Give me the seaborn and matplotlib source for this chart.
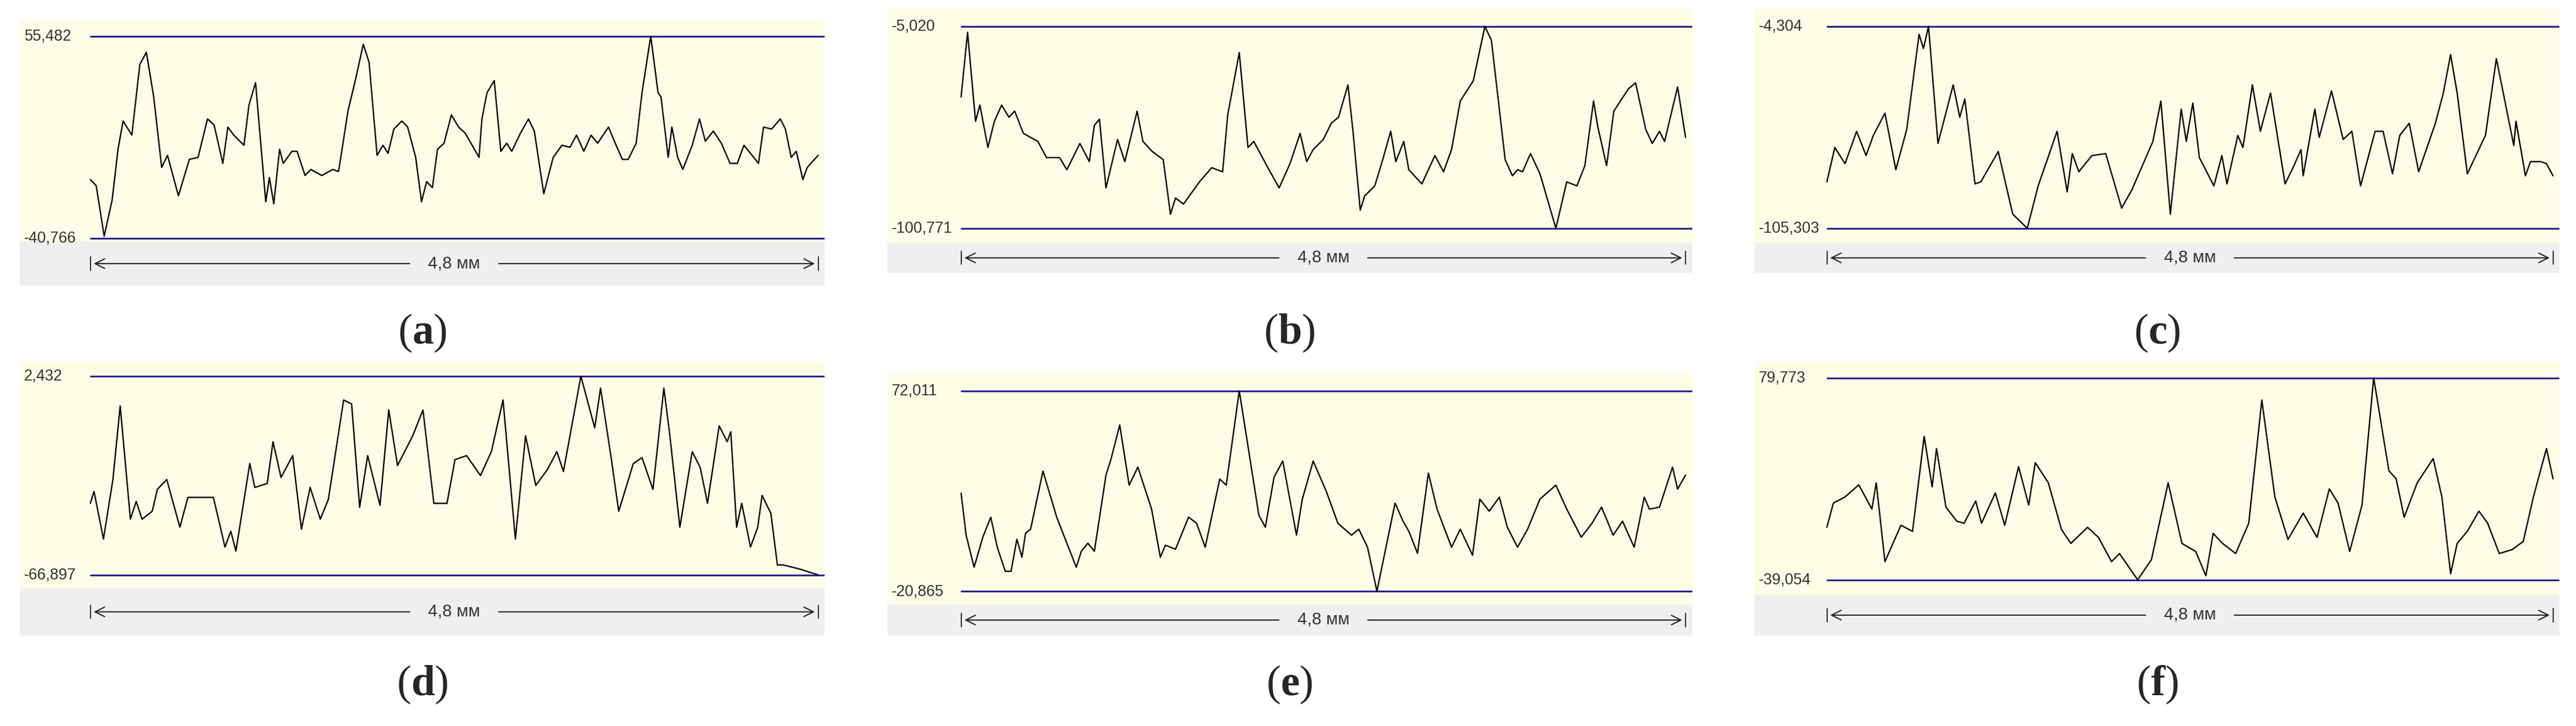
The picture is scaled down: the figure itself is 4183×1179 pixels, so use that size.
import numpy as np
import pandas as pd
import matplotlib
matplotlib.use("Agg")
import matplotlib.pyplot as plt
import seaborn as sns

# profile data: x in % of 4.8 mm trace, height in % between min and max lines
a_x = [0, 0.8, 1.9, 3.0, 3.8, 4.5, 5.7, 6.8, 7.7, 8.7, 9.8, 10.6, 12.1, 13.6, 14.8, 16.1, 17.0, 18.2, 18.9, 19.7,
       21.1, 21.8, 22.7, 24.1, 24.6, 25.2, 26.0, 26.5, 27.7, 28.4, 29.5, 30.3, 31.8, 33.3, 34.1, 34.5, 35.4, 36.4, 37.5, 38.3,
       39.4, 40.2, 40.9, 41.7, 42.8, 43.6, 44.7, 45.5, 46.2, 47.0, 47.7, 48.6, 49.6, 50.6, 51.5, 52.3, 53.4, 53.8, 54.5, 55.5,
       56.4, 57.2, 57.9, 59.1, 60.2, 61.0, 62.3, 63.6, 64.8, 65.9, 66.8, 67.8, 68.8, 69.7, 71.2, 72.0, 73.1, 73.9, 75.0, 75.8,
       77.0, 78.0, 78.4, 79.4, 79.9, 80.7, 81.4, 82.7, 83.7, 84.5, 85.6, 86.7, 87.9, 88.9, 89.8, 90.7, 91.8, 92.5, 93.6, 94.8,
       95.5, 96.3, 97.0, 97.9, 98.5, 100]
a_h = [29, 26, 1, 19, 44, 58, 51, 86, 92, 70, 35, 41, 21, 39, 40, 59, 56, 37, 55, 51,
       46, 66, 77, 18, 30, 17, 44, 37, 43, 43, 31, 34, 31, 34, 33, 42, 63, 78, 96, 87,
       41, 46, 42, 54, 58, 55, 40, 18, 28, 25, 44, 47, 61, 55, 52, 47, 40, 59, 72, 78,
       43, 47, 43, 52, 59, 53, 22, 40, 46, 45, 51, 43, 51, 47, 55, 48, 39, 39, 47, 72,
       100, 72, 70, 40, 55, 40, 34, 46, 59, 48, 53, 47, 37, 37, 46, 42, 37, 55, 54, 59,
       54, 40, 43, 29, 35, 41]

b_pts = [(0, 65), (0.9, 97), (2, 53), (2.6, 61), (3.7, 40), (4.6, 53), (5.6, 61), (6.6, 55), (7.4, 58), (8.6, 47),
         (10.6, 43), (11.8, 35), (13.6, 35), (14.6, 29), (16.4, 42), (17.7, 33), (18.4, 51), (19.1, 54), (20, 20), (21.6, 44),
         (22.6, 33), (24.3, 58), (25.1, 43), (26.4, 38), (27.9, 34), (28.9, 7), (29.6, 15), (30.7, 12), (32.9, 23), (34.6, 30),
         (36.1, 28), (36.8, 56), (38.4, 87), (39.6, 40), (40.4, 43), (42.5, 29), (43.9, 20), (45.4, 32), (46.8, 47), (47.7, 33),
         (48.6, 39), (50, 44), (51.1, 52), (52.1, 55), (53.4, 71), (54.1, 48), (55.1, 9), (55.7, 16), (57.1, 21), (58.2, 34),
         (59.3, 48), (60, 33), (61.1, 43), (61.8, 29), (63.6, 22), (65.4, 36), (66.6, 28), (67.7, 39), (68.9, 63), (70.7, 73),
         (72.3, 100), (73.2, 93), (75.1, 34), (76.1, 26), (76.8, 29), (77.5, 28), (78.6, 37), (79.9, 27), (82.1, 0), (83.6, 23),
         (85, 21), (86.1, 31), (87.3, 63), (87.9, 50), (89.1, 31), (90.1, 58), (92.1, 69), (93.1, 72), (94.5, 49), (95.4, 42),
         (96.4, 48), (97.1, 43), (98.9, 70), (100, 45)]
c_pts = [(0, 23), (1.1, 40), (2.5, 32), (4.1, 48), (5.4, 36), (6.4, 46), (8, 57), (9.5, 29), (11, 49), (12.7, 96),
         (13.3, 89), (14, 100), (15.3, 42), (17.4, 71), (18.3, 55), (19, 64), (20.4, 22), (21.2, 23), (23.6, 38), (25.6, 7),
         (27.6, 0), (29.1, 21), (31.7, 48), (33.1, 18), (33.8, 37), (34.7, 28), (36.5, 36), (38.4, 37), (40.6, 10), (42, 19),
         (44.9, 43), (46, 63), (47.3, 7), (48.8, 59), (49.5, 43), (50.4, 62), (51.3, 35), (53.3, 21), (54.4, 36), (55.1, 22),
         (56.6, 46), (57.3, 40), (58.6, 71), (59.7, 48), (61.1, 67), (63.1, 22), (64.2, 30), (65.3, 39), (65.6, 26), (67.2, 59),
         (67.8, 45), (69.5, 68), (71.1, 44), (72.3, 48), (73.5, 21), (75.5, 48), (76.6, 48), (77.9, 27), (78.9, 46), (80.2, 52),
         (81.5, 28), (83.8, 52), (84.9, 67), (85.9, 86), (86.8, 67), (88.2, 27), (90.7, 46), (92.2, 84), (94.6, 41), (94.9, 53),
         (96.2, 26), (96.9, 33), (98.3, 33), (99.1, 32), (100, 26)]
d_pts = [(0, 36), (0.5, 42), (1.8, 18), (3.1, 48), (4.1, 85), (5.5, 28), (6.3, 37), (7.1, 28), (8.5, 32), (9.2, 43),
         (10.5, 48), (12.3, 24), (13.4, 39), (15, 39), (16.9, 39), (17.8, 25), (18.5, 14), (19.3, 22), (20, 12), (21.9, 56),
         (22.6, 44), (24.3, 46), (25.1, 67), (26.2, 49), (27.8, 60), (29, 23), (30.2, 44), (31.6, 28), (32.7, 38), (34.8, 88),
         (35.9, 86), (37, 34), (38.1, 60), (39.8, 35), (41, 83), (42.2, 55), (44.3, 70), (45.7, 83), (47.2, 36), (49, 36),
         (50.1, 58), (51.7, 60), (53.6, 50), (55.1, 62), (56.7, 88), (58.4, 18), (59.8, 70), (61.2, 45), (62.8, 53), (64.1, 62),
         (65, 52), (67.4, 100), (69.3, 74), (70.1, 94), (71.6, 58), (72.6, 32), (74.6, 56), (75.8, 59), (77.3, 43), (78.8, 94),
         (79.6, 71), (81, 24), (82.7, 62), (83.8, 54), (84.8, 36), (86.4, 75), (87.5, 67), (88, 72), (88.8, 24), (89.5, 36),
         (90.7, 14), (91.7, 24), (92.3, 40), (93.5, 31), (94.4, 5), (95.2, 5), (97.4, 3), (100, 0)]
e_pts = [(0, 49), (0.7, 28), (1.8, 12), (3, 27), (4.1, 37), (5, 22), (6.1, 10), (6.9, 10), (7.7, 26), (8.4, 17),
         (8.9, 29), (9.6, 31), (11.3, 60), (13.2, 37), (14.6, 24), (15.9, 12), (16.6, 20), (17.5, 24), (18.4, 20), (20, 58),
         (20.7, 66), (21.9, 83), (23.2, 53), (24.4, 62), (26.3, 41), (27.5, 17), (28.2, 23), (29.6, 21), (31.4, 37), (32.5, 34),
         (33.7, 22), (35.7, 56), (36.6, 53), (38.4, 100), (41.1, 38), (42, 32), (43.2, 57), (44.4, 65), (46.3, 28), (47.1, 46),
         (48.6, 65), (50.4, 50), (52, 34), (53.9, 28), (54.9, 31), (56.1, 22), (57.4, 0), (59.9, 44), (61, 35), (61.8, 30),
         (63, 19), (64.5, 59), (65.7, 41), (67.7, 22), (68.9, 31), (70.6, 18), (71.6, 46), (72.9, 40), (74.3, 47), (75.4, 32),
         (76.8, 22), (78.2, 31), (79.9, 46), (82.1, 53), (83.6, 41), (85.6, 27), (87.1, 34), (88.4, 42), (90, 28), (91.3, 35),
         (92.9, 22), (94.3, 47), (95, 41), (96.4, 42), (98.2, 62), (98.9, 51), (100, 58)]
f_pts = [(0, 26), (0.9, 38), (2.5, 41), (4.4, 47), (6.2, 35), (6.8, 48), (8, 9), (10.2, 27), (11.8, 24), (13.4, 71),
         (14.5, 46), (15.1, 65), (16.4, 36), (17.9, 29), (18.9, 28), (20.5, 39), (21.3, 28), (23.2, 43), (24.5, 27), (26.4, 56),
         (27.8, 37), (28.7, 58), (30.5, 48), (32.3, 25), (33.6, 18), (35.9, 26), (37.4, 21), (39.2, 9), (40.3, 13), (42.8, 0),
         (44.7, 10), (47, 48), (48.9, 18), (50.8, 14), (52.2, 2), (53.2, 23), (54.5, 18), (56.3, 13), (58.1, 28), (59.9, 89),
         (61.7, 41), (63.5, 20), (65.6, 33), (67.5, 21), (69.2, 45), (70.4, 38), (72, 14), (73.7, 37), (75.3, 100), (77.4, 54),
         (78.4, 50), (79.5, 31), (81.3, 48), (83.5, 60), (84.7, 41), (85.9, 3), (86.8, 18), (88.2, 24), (89.8, 34), (91, 28),
         (92.6, 13), (94.4, 15), (95.9, 19), (97.3, 41), (99.1, 65), (100, 50)]

profiles = {
    "a": (a_x, a_h),
    "b": tuple(map(list, zip(*b_pts))),
    "c": tuple(map(list, zip(*c_pts))),
    "d": tuple(map(list, zip(*d_pts))),
    "e": tuple(map(list, zip(*e_pts))),
    "f": tuple(map(list, zip(*f_pts))),
}
limits = {"a": (-40.766, 55.482), "b": (-100.771, -5.020), "c": (-105.303, -4.304),
          "d": (-66.897, 2.432), "e": (-20.865, 72.011), "f": (-39.054, 79.773)}
length_label = "4,8 мм"

# layout in the 1568x442 preview pixel grid:
# outer x0, x1, yellow top, yellow bottom, strip bottom, line x0, line top y, line bottom y, caption y
layout = {
    "a": (12, 502, 12, 147, 174, 55, 22, 145, 203),
    "b": (540, 1030, 5, 148, 166, 585, 16, 139, 203),
    "c": (1068, 1558, 5, 148, 166, 1112, 16, 139, 203),
    "d": (12, 502, 220, 358, 387, 55, 229, 350, 417),
    "e": (540, 1030, 228, 368, 387, 585, 238, 360, 417),
    "f": (1068, 1558, 220, 362, 387, 1112, 230, 353, 417),
}

sns.set_style("white")
plt.rcParams["mathtext.fontset"] = "custom"
plt.rcParams["mathtext.rm"] = "Liberation Serif"
plt.rcParams["mathtext.bf"] = "Liberation Serif:bold"

W, H = 1568.0, 442.0
fig = plt.figure(figsize=(41.83, 11.79), dpi=100)
fig.patch.set_facecolor("white")

def fx(px):
    return px / W

def fy(py):
    return 1 - py / H

yellow = "#fdfde6"
grey = "#efefef"
blue = "#1e1e8c"

for key, (x0, x1, yt, yb, sb, lx0, ly_top, ly_bot, cap_y) in layout.items():
    lx1 = x1 - 4
    lo, hi = limits[key]
    xs, hs = profiles[key]
    df = pd.DataFrame({"x": xs, "z": [lo + h / 100.0 * (hi - lo) for h in hs]})

    # grey strip under the plot
    sax = fig.add_axes([fx(x0), fy(sb), fx(x1) - fx(x0), fy(yb) - fy(sb)])
    sax.set_facecolor(grey)
    sax.set_xticks([]); sax.set_yticks([])
    for s in sax.spines.values():
        s.set_visible(False)
    sax.set_xlim(x0, x1); sax.set_ylim(sb, yb)
    ay = yb + (sb - yb) * 0.5
    sax.plot([lx0, lx0], [ay - 4, ay + 4], color="#333333", lw=1.4)
    sax.plot([lx1, lx1], [ay - 4, ay + 4], color="#333333", lw=1.4)
    mid = (lx0 + lx1) / 2
    sax.annotate("", xy=(lx0 + 1, ay), xytext=(mid - 26, ay),
                 arrowprops=dict(arrowstyle="->", color="#222222", lw=1.4, mutation_scale=28))
    sax.annotate("", xy=(lx1 - 1, ay), xytext=(mid + 26, ay),
                 arrowprops=dict(arrowstyle="->", color="#222222", lw=1.4, mutation_scale=28))
    sax.text(mid, ay, length_label, ha="center", va="center", fontsize=20,
             family="Liberation Sans", color="#333333")

    # profile axes
    ax = fig.add_axes([fx(x0), fy(yb), fx(x1) - fx(x0), fy(yt) - fy(yb)])
    ax.set_facecolor(yellow)
    span = lx1 - lx0
    ax.set_xlim(-(lx0 - x0) / span * 100, 100 + (x1 - lx1) / span * 100)
    zscale = (hi - lo) / (ly_bot - ly_top)
    ax.set_ylim(lo - (yb - ly_bot) * zscale, hi + (ly_top - yt) * zscale)
    ax.axhline(hi, xmin=(lx0 - x0) / (x1 - x0), xmax=1, color=blue, lw=2)
    ax.axhline(lo, xmin=(lx0 - x0) / (x1 - x0), xmax=1, color=blue, lw=2)
    sns.lineplot(data=df, x="x", y="z", ax=ax, color="black", lw=1.6)
    fmt = lambda v: f"{v:.3f}".replace(".", ",")
    xl = -(lx0 - x0) / span * 100
    ax.text(xl + 0.6, hi, fmt(hi), ha="left", va="center", fontsize=18,
            family="Liberation Sans", color="#333333")
    ax.text(xl + 0.6, lo, fmt(lo), ha="left", va="center", fontsize=18,
            family="Liberation Sans", color="#333333")
    ax.set_xticks([]); ax.set_yticks([])
    ax.set_xlabel(""); ax.set_ylabel("")
    for s in ax.spines.values():
        s.set_visible(False)

    fig.text(fx((x0 + x1) / 2), fy(cap_y), r"($\mathbf{" + key + r"}$)",
             ha="center", va="center", fontsize=50, family="Liberation Serif")

fig.savefig("out.png", dpi=100, facecolor="white")
